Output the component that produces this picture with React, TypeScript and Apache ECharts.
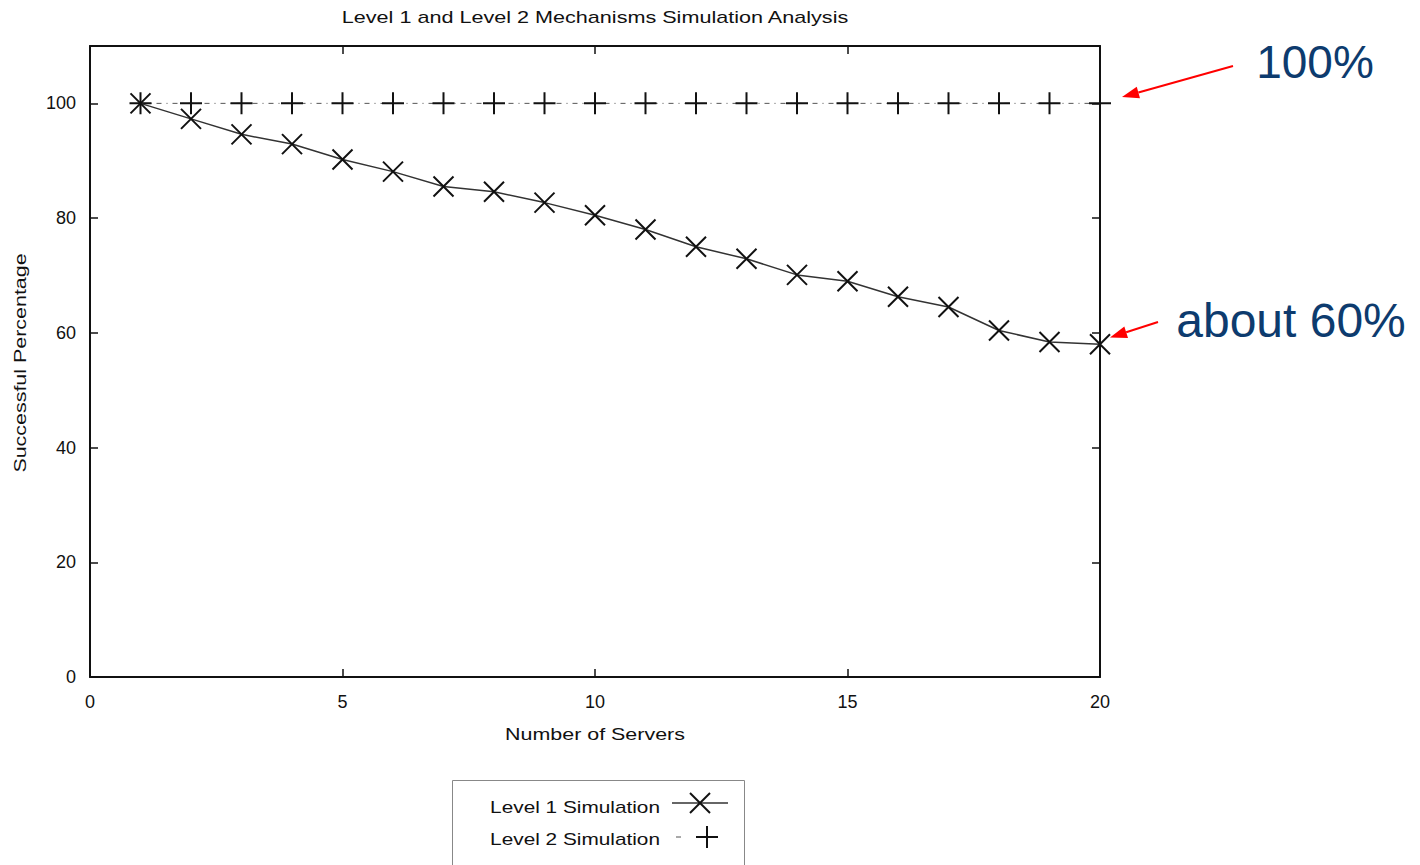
import React, { useEffect, useRef } from "react";
import * as echarts from "echarts";

const servers = [1, 2, 3, 4, 5, 6, 7, 8, 9, 10, 11, 12, 13, 14, 15, 16, 17, 18, 19, 20];
const level1 = [100, 97.3, 94.6, 92.9, 90.2, 88.1, 85.5, 84.6, 82.7, 80.5, 78.0, 75.0, 72.9, 70.1, 69.0, 66.3, 64.5, 60.4, 58.4, 58.0];
const level2 = [100, 100, 100, 100, 100, 100, 100, 100, 100, 100, 100, 100, 100, 100, 100, 100, 100, 100, 100, 100];
const seriesNames = ["Level 1 Simulation", "Level 2 Simulation"];
const titleText = "Level 1 and Level 2 Mechanisms Simulation Analysis";
const xName = "Number of Servers";
const yName = "Successful Percentage";
const note100 = "100%";
const note60 = "about 60%";

const FONT = "'Liberation Sans', Arial, Helvetica, sans-serif";
const X_SYMBOL = "path://M0,0L20,20M20,0L0,20";
const PLUS_SYMBOL = "path://M10,0L10,20M0,10L20,10";

function arrow(x1: number, y1: number, x2: number, y2: number) {
  const dx = x2 - x1, dy = y2 - y1;
  const len = Math.sqrt(dx * dx + dy * dy);
  const ux = dx / len, uy = dy / len;
  const hl = 17, hw = 6;
  const bx = x2 - ux * hl, by = y2 - uy * hl;
  const nx = -uy, ny = ux;
  return [
    { type: "line", shape: { x1, y1, x2: bx, y2: by }, style: { stroke: "#ff0000", lineWidth: 2 } },
    {
      type: "polygon",
      shape: { points: [[x2, y2], [bx + nx * hw, by + ny * hw], [bx - nx * hw, by - ny * hw]] },
      style: { fill: "#ff0000" },
    },
  ];
}

function legendItems() {
  const stroke = { stroke: "#111", lineWidth: 2 };
  const txt = (text: string, y: number) => ({
    type: "text",
    x: 660,
    y,
    scaleX: 1.3,
    style: { text, font: `16px ${FONT}`, fill: "#111", align: "right", verticalAlign: "middle" },
  });
  return [
    {
      type: "rect",
      shape: { x: 452.5, y: 780.5, width: 292, height: 120 },
      style: { fill: "none", stroke: "#888", lineWidth: 1 },
    },
    txt(seriesNames[0], 807),
    { type: "line", shape: { x1: 672, y1: 803, x2: 728, y2: 803 }, style: { stroke: "#333", lineWidth: 1.5 } },
    { type: "line", shape: { x1: 690, y1: 793, x2: 710, y2: 813 }, style: stroke },
    { type: "line", shape: { x1: 710, y1: 793, x2: 690, y2: 813 }, style: stroke },
    txt(seriesNames[1], 839),
    { type: "line", shape: { x1: 676, y1: 837, x2: 681, y2: 837 }, style: { stroke: "#555", lineWidth: 1 } },
    { type: "line", shape: { x1: 696, y1: 837, x2: 718, y2: 837 }, style: stroke },
    { type: "line", shape: { x1: 707, y1: 826, x2: 707, y2: 848 }, style: stroke },
  ];
}

export default function App() {
  const ref = useRef<HTMLDivElement>(null);
  useEffect(() => {
    if (!ref.current) return;
    const chart = echarts.init(ref.current, null, { renderer: "svg" });
    const axisCommon = {
      type: "value",
      axisLine: { show: true, onZero: false, lineStyle: { color: "#111", width: 2 } },
      axisTick: { show: true, inside: true, length: 8, lineStyle: { color: "#111", width: 1.5 } },
      splitLine: { show: false },
    };
    chart.setOption({
      animation: false,
      backgroundColor: "#ffffff",
      grid: { left: 90, right: 320, top: 46, bottom: 188, containLabel: false },
      xAxis: [
        {
          ...axisCommon,
          position: "bottom",
          min: 0,
          max: 20,
          interval: 5,
          axisLabel: { fontSize: 18, color: "#111", fontFamily: FONT, margin: 16 },
        },
        {
          ...axisCommon,
          position: "top",
          min: 0,
          max: 20,
          interval: 5,
          axisLabel: { show: false },
        },
      ],
      yAxis: [
        {
          ...axisCommon,
          position: "left",
          min: 0,
          max: 110,
          interval: 20,
          axisLabel: {
            fontSize: 18,
            color: "#111",
            fontFamily: FONT,
            margin: 14,
            formatter: (v: number) => (v > 100 ? "" : String(v)),
          },
        },
        {
          ...axisCommon,
          position: "right",
          min: 0,
          max: 110,
          interval: 20,
          axisLabel: { show: false },
        },
      ],
      series: [
        {
          name: seriesNames[0],
          type: "line",
          data: servers.map((s, i) => [s, level1[i]]),
          symbol: X_SYMBOL,
          symbolSize: 20,
          lineStyle: { color: "#333", width: 1.5 },
          itemStyle: { color: "#111", borderColor: "#111", borderWidth: 2 },
          z: 3,
        },
        {
          name: seriesNames[1],
          type: "line",
          data: servers.map((s, i) => [s, level2[i]]),
          symbol: PLUS_SYMBOL,
          symbolSize: 22,
          lineStyle: { color: "#555", width: 1, type: [5, 5, 1, 5] },
          itemStyle: { color: "#111", borderColor: "#111", borderWidth: 2 },
          z: 2,
        },
      ],
      graphic: [
        {
          type: "text",
          x: 595,
          y: 18,
          scaleX: 1.35,
          style: { text: titleText, font: `16px ${FONT}`, fill: "#111", align: "center", verticalAlign: "middle" },
        },
        {
          type: "text",
          x: 595,
          y: 735,
          scaleX: 1.34,
          style: { text: xName, font: `16px ${FONT}`, fill: "#111", align: "center", verticalAlign: "middle" },
        },
        {
          type: "text",
          x: 21,
          y: 363,
          rotation: Math.PI / 2,
          scaleX: 1.34,
          style: { text: yName, font: `16px ${FONT}`, fill: "#111", align: "center", verticalAlign: "middle" },
        },
        ...legendItems(),
        {
          type: "text",
          x: 1315,
          y: 62,
          style: { text: note100, font: `46px ${FONT}`, fill: "#0d3b6e", align: "center", verticalAlign: "middle" },
        },
        {
          type: "text",
          x: 1291,
          y: 320,
          style: { text: note60, font: `48px ${FONT}`, fill: "#0d3b6e", align: "center", verticalAlign: "middle" },
        },
        ...arrow(1233, 66, 1122, 97),
        ...arrow(1158, 322, 1110, 337.5),
      ],
    });
    return () => chart.dispose();
  }, []);
  return (
    <div
      ref={ref}
      style={{ position: "fixed", left: 0, top: 0, width: 1420, height: 865, background: "#fff" }}
    />
  );
}
